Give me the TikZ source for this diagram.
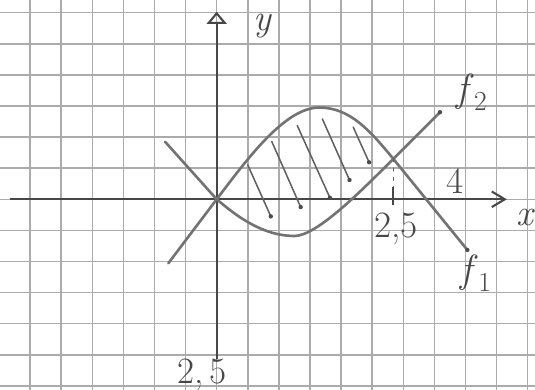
\documentclass[tikz,border=0pt]{standalone}
\usetikzlibrary{arrows.meta}
\begin{document}
\begin{tikzpicture}[
  gridline/.style={draw=black!33, line width=1.4pt},
  axisline/.style={draw=black!72, line width=1.9pt},
  curveline/.style={draw=black!55, line width=2.4pt, line cap=round, line join=round},
  hatchline/.style={draw=black!62, line width=1.4pt, line cap=round},
  enddot/.style={circle, fill=black!70, inner sep=0pt, minimum size=4pt},
  lbl/.style={text=black!72, inner sep=0pt, font=\fontsize{34}{38}\selectfont},
  flbl/.style={text=black!72, inner sep=0pt, font=\fontsize{36}{40}\selectfont},
]
\fill[white] (-6.968,-6.132) rectangle (10.235,6.408);
\useasboundingbox (-6.968,-6.132) rectangle (10.235,6.408);
\draw[gridline] (-6.968,-6.132) grid (10.235,6.408);

% axes
\coordinate (xs) at (-6.65,0);
\coordinate (xe) at (9.33,0);
\draw[axisline, -{Straight Barb[length=4.2mm, width=5mm]}] (xs) -- (xe);
\coordinate (ys) at (0,-5.135);
\coordinate (ye) at (0,6.03);
\draw[axisline, -{Triangle[open, length=3.9mm, width=6.4mm]}] (ys) -- (ye);

% key points
\coordinate (O) at (0,0);
\coordinate (isect) at (5.68,1.30);
\coordinate (f1start) at (-1.556,-2.058);
\coordinate (f1peak) at (3.3,2.95);
\coordinate (f2start) at (-1.66,1.85);
\coordinate (f2min) at (2.5,-1.18);

% curves
\draw[curveline] (f1start) -- (O)
  .. controls (1.0,1.32) and (2.2,2.95) .. (f1peak)
  .. controls (4.3,2.95) and (4.95,2.18) .. (isect)
  -- (8.06,-1.63) node[enddot] (f1end) {};
\draw[curveline] (f2start) -- (O)
  .. controls (0.5,-0.42) and (1.4,-1.18) .. (f2min)
  .. controls (3.2,-1.18) and (4.58,0.2) .. (isect)
  -- (7.18,2.80) node[enddot] (f2end) {};

% hatching
\draw[hatchline] (1.00,1.10) -- (1.74,-0.55) node[enddot] (h1) {};
\draw[hatchline] (1.77,1.86) -- (2.70,-0.25) node[enddot] (h2) {};
\draw[hatchline] (2.59,2.37) -- (3.64,0.05) node[enddot] (h3) {};
\draw[hatchline] (3.40,2.58) -- (4.27,0.62) node[enddot] (h4) {};
\draw[hatchline] (4.39,2.32) -- (4.90,1.19) node[enddot] (h5) {};

% intersection marker
\coordinate (tickt) at (5.68,0.38);
\coordinate (tickb) at (5.68,-0.19);
\draw[hatchline, dash pattern=on 2.5pt off 6pt] (isect) -- (tickt);
\draw[axisline] (tickt) -- (tickb);

% labels
\node[lbl] (ylab) at (1.49,5.57) {\textit{y}};
\node[lbl] (xlab) at (9.93,-0.57) {\textit{x}};
\node[lbl] (four) at (7.66,0.59) {4};
\node[lbl] (xval) at (5.77,-0.955) {2,5};
\node[lbl] (yval) at (-0.47,-5.66) {2,\,5};
\node[flbl] (f2lab) at (8.21,3.45) {\textit{f}\textsubscript{2}};
\node[flbl] (f1lab) at (8.34,-2.37) {\textit{f}\textsubscript{1}};
\end{tikzpicture}
\end{document}
